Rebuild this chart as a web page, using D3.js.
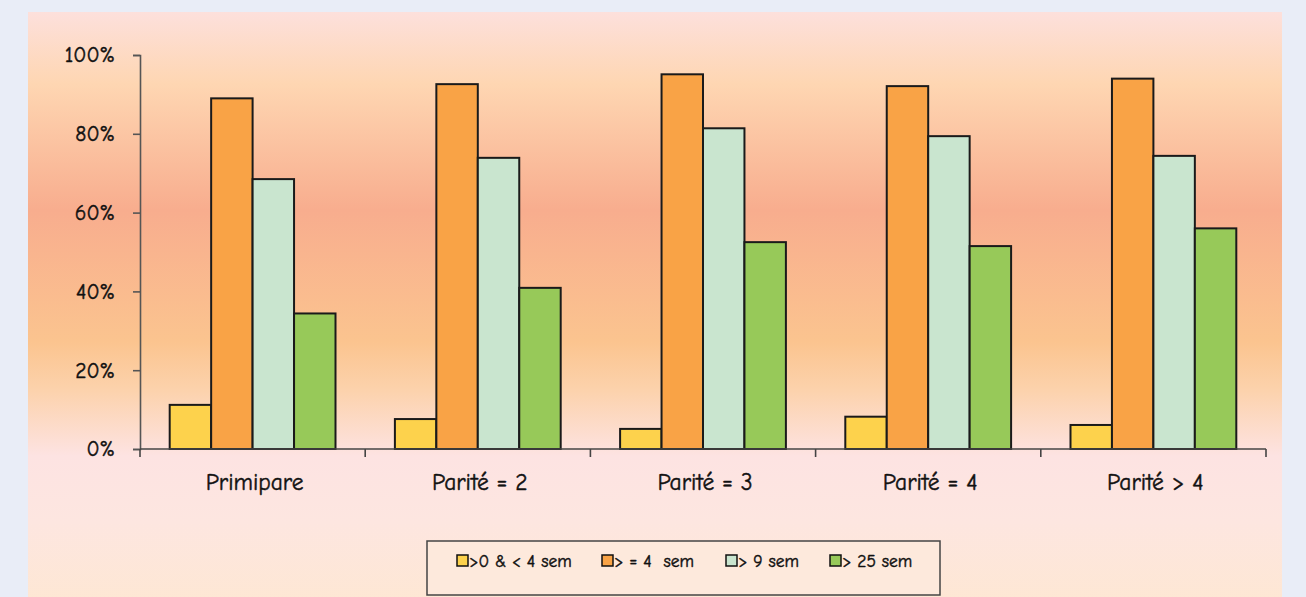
<!DOCTYPE html>
<html>
<head>
<meta charset="utf-8">
<script src="https://cdn.jsdelivr.net/npm/d3@7"></script>
<style>
  body { margin: 0; background: #e9edf7; }
  svg { display: block; font-family: "Comic Sans MS", "Comic Neue", "DejaVu Sans", sans-serif; }
  text { white-space: pre; stroke: #111; stroke-width: 0.45px; }
</style>
</head>
<body>
<svg id="chart"></svg>
<script>
var categories = ["Primipare", "Parité = 2", "Parité = 3", "Parité = 4", "Parité > 4"];
var seriesNames = [">0 & < 4 sem", "> = 4  sem", "> 9 sem", "> 25 sem"];
var s1 = [11.2, 7.6, 5.1, 8.2, 6.1];
var s2 = [89.0, 92.6, 95.1, 92.1, 94.0];
var s3 = [68.5, 73.9, 81.4, 79.4, 74.4];
var s4 = [34.4, 40.9, 52.5, 51.5, 56.0];
var yTicks = [0, 20, 40, 60, 80, 100];

var series = [s1, s2, s3, s4];
var colors = ["#fdd24c", "#f9a346", "#c9e5cf", "#97c959"];

var width = 1306, height = 597;

var svg = d3.select("#chart")
  .attr("width", width)
  .attr("height", height);

// background gradient panel
var defs = svg.append("defs");
var grad = defs.append("linearGradient")
  .attr("id", "bg")
  .attr("x1", 0).attr("y1", 0).attr("x2", 0).attr("y2", 1);
[[0, "#fde0dc"], [0.12, "#fed6b2"], [0.33, "#f8ad8e"], [0.55, "#fbc48f"], [0.63, "#fcd2ac"],
 [0.74, "#fde3e2"], [0.85, "#fde6e0"], [1, "#fee7d2"]].forEach(function(s) {
  grad.append("stop").attr("offset", s[0]).attr("stop-color", s[1]);
});

svg.append("rect")
  .attr("x", 28).attr("y", 12)
  .attr("width", 1254).attr("height", 600)
  .attr("fill", "url(#bg)");

var x0 = d3.scaleBand()
  .domain(categories)
  .range([140, 1266]);

var x1 = d3.scaleBand()
  .domain(d3.range(series.length))
  .range([29.7, x0.bandwidth() - 29.7]);

var y = d3.scaleLinear()
  .domain([0, 100])
  .range([449, 55]);

// bars
var groups = svg.selectAll(".grp")
  .data(categories)
  .enter().append("g")
  .attr("class", "grp")
  .attr("transform", function(d) { return "translate(" + x0(d) + ",0)"; });

groups.selectAll("rect")
  .data(function(d, i) { return series.map(function(s, j) { return {k: j, v: s[i]}; }); })
  .enter().append("rect")
  .attr("x", function(d) { return x1(d.k); })
  .attr("y", function(d) { return y(d.v); })
  .attr("width", x1.bandwidth())
  .attr("height", function(d) { return y(0) - y(d.v); })
  .attr("fill", function(d) { return colors[d.k]; })
  .attr("stroke", "#1a1a1a")
  .attr("stroke-width", 2);

// y axis
var yAxis = svg.append("g")
  .attr("transform", "translate(140,0)")
  .call(d3.axisLeft(y).tickValues(yTicks).tickSize(7).tickPadding(18)
    .tickFormat(function(d) { return d + "%"; }));
yAxis.attr("font-family", null).attr("font-size", null);
yAxis.select(".domain").attr("stroke", "#555").attr("stroke-width", 1.6);
yAxis.selectAll(".tick line").attr("stroke", "#555").attr("stroke-width", 1.6);
yAxis.selectAll("text")
  .style("font-size", "21.5px")
  .attr("fill", "#111");

// x axis
var xAxis = svg.append("g")
  .attr("transform", "translate(0,449)");
xAxis.append("line")
  .attr("x1", 140).attr("x2", 1266)
  .attr("stroke", "#444").attr("stroke-width", 1.6);
xAxis.selectAll(".xt")
  .data(categories.concat(["end"]))
  .enter().append("line")
  .attr("x1", function(d, i) { return i < categories.length ? x0(d) : 1266; })
  .attr("x2", function(d, i) { return i < categories.length ? x0(d) : 1266; })
  .attr("y1", 0).attr("y2", 8)
  .attr("stroke", "#444").attr("stroke-width", 1.6);
xAxis.selectAll(".xl")
  .data(categories)
  .enter().append("text")
  .attr("x", function(d) { return x0(d) + x0.bandwidth() / 2 + 2; })
  .attr("y", 41)
  .attr("text-anchor", "middle")
  .style("font-size", "23.5px")
  .attr("fill", "#111")
  .text(function(d) { return d; });

// legend
var legend = svg.append("g");
legend.append("rect")
  .attr("x", 427).attr("y", 541)
  .attr("width", 513).attr("height", 54)
  .attr("fill", "#fde9dc")
  .attr("stroke", "#444").attr("stroke-width", 1.5);

var legendX = [457, 602, 726, 830];
var item = legend.selectAll(".li")
  .data(seriesNames)
  .enter().append("g")
  .attr("transform", function(d, i) { return "translate(" + legendX[i] + ",561)"; });
item.append("rect")
  .attr("x", 0).attr("y", -6)
  .attr("width", 11).attr("height", 11)
  .attr("fill", function(d, i) { return colors[i]; })
  .attr("stroke", "#111").attr("stroke-width", 1.5);
item.append("text")
  .attr("x", 12).attr("y", 6)
  .style("font-size", "17.5px")
  .attr("fill", "#111")
  .text(function(d) { return d; });
</script>
</body>
</html>
